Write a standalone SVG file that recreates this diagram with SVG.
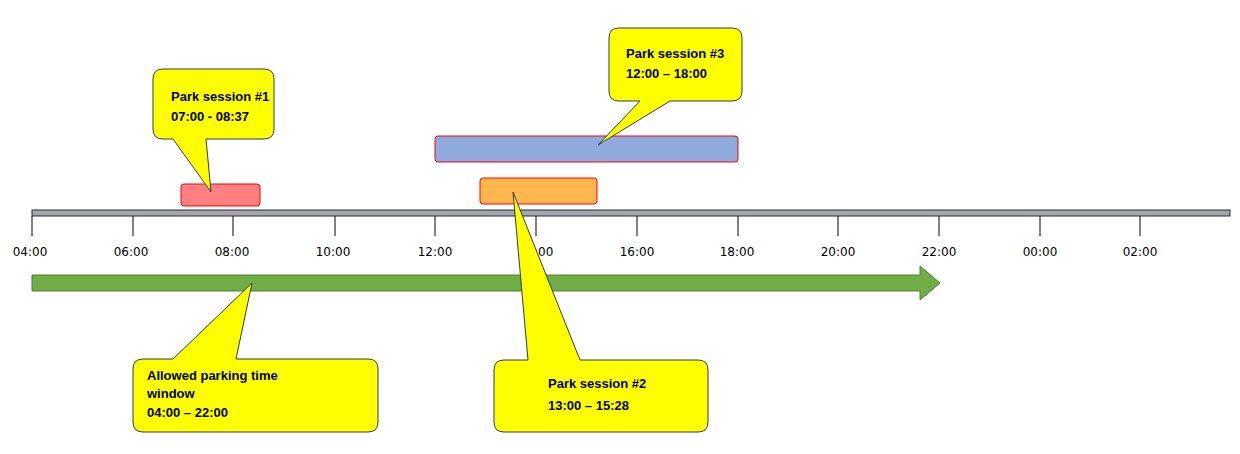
<svg xmlns="http://www.w3.org/2000/svg" width="1240" height="454" viewBox="0 0 1240 454">
<style>
.lbl{font-family:"DejaVu Sans",sans-serif;font-size:12px;fill:#000;text-anchor:middle}
.ct{font-family:"Liberation Sans",sans-serif;font-size:13px;font-weight:bold;fill:#000}
.call{fill:#ffff00;stroke:#2f3b4c;stroke-width:1}
.tick{stroke:#000;stroke-width:1}
</style>
<rect width="1240" height="454" fill="#fff"/>
<g id="timeline">
<rect x="32" y="210" width="1198" height="6" fill="#a6a6a6" stroke="#1f2d4d" stroke-width="1"/>
<g class="tick">
<line x1="32" y1="216" x2="32" y2="236"/><line x1="133" y1="216" x2="133" y2="236"/><line x1="233" y1="216" x2="233" y2="236"/><line x1="335" y1="216" x2="335" y2="236"/><line x1="435" y1="216" x2="435" y2="236"/><line x1="536" y1="216" x2="536" y2="236"/><line x1="637" y1="216" x2="637" y2="236"/><line x1="738" y1="216" x2="738" y2="236"/><line x1="838" y1="216" x2="838" y2="236"/><line x1="939" y1="216" x2="939" y2="236"/><line x1="1040" y1="216" x2="1040" y2="236"/><line x1="1140" y1="216" x2="1140" y2="236"/>
</g>
<text class="lbl" x="30" y="256">04:00</text><text class="lbl" x="131" y="256">06:00</text><text class="lbl" x="232" y="256">08:00</text><text class="lbl" x="333" y="256">10:00</text><text class="lbl" x="435" y="256">12:00</text><text class="lbl" x="536" y="256">14:00</text><text class="lbl" x="637" y="256">16:00</text><text class="lbl" x="737" y="256">18:00</text><text class="lbl" x="838" y="256">20:00</text><text class="lbl" x="939" y="256">22:00</text><text class="lbl" x="1040" y="256">00:00</text><text class="lbl" x="1140" y="256">02:00</text>
</g>
<g id="window-arrow">
<path d="M32 275 H920 V266 L940 283 L920 300 V291 H32 Z" fill="#70ad47" stroke="#507e32" stroke-width="1"/>
</g>
<g id="session1"><rect x="181" y="184" width="79" height="22" rx="3" fill="#ff8080" stroke="#ff0000"/></g>
<g id="session3"><rect x="435" y="136" width="303" height="26" rx="3" fill="#8faadc" stroke="#ff0000"/></g>
<g id="session2"><rect x="480" y="178" width="117" height="26" rx="3" fill="#ffb74d" stroke="#ff0000"/></g>
<g id="callout1">
<path class="call" d="M163 69 H264 Q274 69 274 79 V129 Q274 139 264 139 H206 L211 192 L173 139 H163 Q153 139 153 129 V79 Q153 69 163 69 Z"/>
<text class="ct" x="171" y="101">Park session #1</text><text class="ct" x="171" y="121">07:00 - 08:37</text>
</g>
<g id="callout3">
<path class="call" d="M619 28 H732 Q742 28 742 38 V91 Q742 101 732 101 H670 L598 145 L640 101 H619 Q609 101 609 91 V38 Q609 28 619 28 Z"/>
<text class="ct" x="626" y="58">Park session #3</text><text class="ct" x="626" y="78">12:00 – 18:00</text>
</g>
<g id="callout2">
<path class="call" d="M504 360 H528 L513 192 L580 360 H698 Q708 360 708 370 V422 Q708 432 698 432 H504 Q494 432 494 422 V370 Q494 360 504 360 Z"/>
<text class="ct" x="548" y="388">Park session #2</text><text class="ct" x="548" y="410">13:00 – 15:28</text>
</g>
<g id="callout-window">
<path class="call" d="M143 359 H173 L252 283 L236 359 H368 Q378 359 378 369 V422 Q378 432 368 432 H143 Q133 432 133 422 V369 Q133 359 143 359 Z"/>
<text class="ct" x="147" y="380">Allowed parking time</text><text class="ct" x="147" y="398">window</text><text class="ct" x="147" y="417">04:00 – 22:00</text>
</g>
<g id="connectors"></g>
</svg>
